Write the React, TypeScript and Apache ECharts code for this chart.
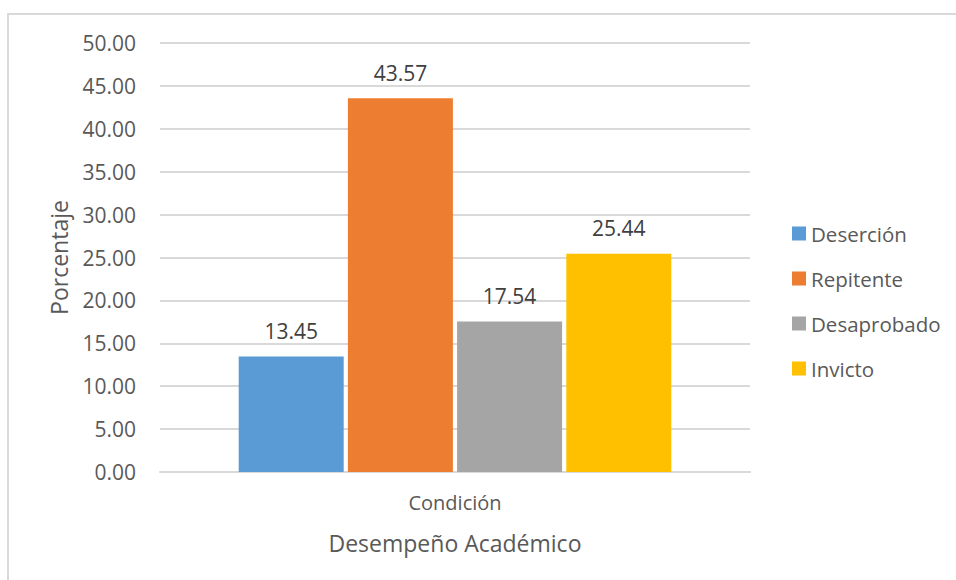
import React, { useEffect, useRef } from "react";
import * as echarts from "echarts";

const categories = ["Condición"];
const seriesNames = ["Deserción", "Repitente", "Desaprobado", "Invicto"];
const seriesValues = [[13.45], [43.57], [17.54], [25.44]];
const seriesColors = ["#5B9BD5", "#ED7D31", "#A5A5A5", "#FFC000"];
const yAxisName = "Porcentaje";
const xAxisName = "Desempeño Académico";

const FONT = "Open Sans";
const TEXT = "#595959";

export default function App() {
  const ref = useRef<HTMLDivElement>(null);
  useEffect(() => {
    if (!ref.current) return;
    const chart = echarts.init(ref.current, null, { renderer: "svg" });
    chart.setOption({
      animation: false,
      backgroundColor: "#ffffff",
      textStyle: { fontFamily: FONT, color: TEXT },
      graphic: [
        {
          type: "rect",
          shape: { x: 8, y: 14, width: 1000, height: 1000 },
          style: { fill: "none", stroke: "#D9D9D9", lineWidth: 2 },
          silent: true,
        },
      ],
      grid: { left: 160, top: 43, width: 590, height: 429 },
      legend: {
        orient: "vertical",
        left: 787,
        top: 218,
        icon: "rect",
        itemWidth: 14,
        itemHeight: 14,
        itemGap: 24,
        textStyle: { fontFamily: FONT, fontSize: 20.5, color: TEXT },
        data: seriesNames,
      },
      xAxis: {
        type: "category",
        data: categories,
        axisLine: { lineStyle: { color: "#D9D9D9", width: 2 } },
        axisTick: { show: false },
        axisLabel: { fontFamily: FONT, fontSize: 20, color: TEXT, margin: 20 },
        name: xAxisName,
        nameLocation: "middle",
        nameGap: 59,
        nameTextStyle: { fontFamily: FONT, fontSize: 23, color: TEXT },
      },
      yAxis: {
        type: "value",
        min: 0,
        max: 50,
        interval: 5,
        axisLine: { show: false },
        axisTick: { show: false },
        splitLine: { lineStyle: { color: "#D9D9D9", width: 2 } },
        axisLabel: {
          fontFamily: FONT,
          fontSize: 21,
          color: TEXT,
          margin: 24,
          formatter: (v: number) => v.toFixed(2),
        },
        name: yAxisName,
        nameLocation: "middle",
        nameRotate: 90,
        nameGap: 90,
        nameTextStyle: { fontFamily: FONT, fontSize: 23, color: TEXT },
      },
      series: seriesNames.map((name, i) => ({
        name,
        type: "bar",
        data: seriesValues[i],
        barWidth: 105,
        barGap: "4%",
        itemStyle: { color: seriesColors[i] },
        label: {
          show: true,
          position: "top",
          distance: 15,
          fontFamily: FONT,
          fontSize: 21,
          color: "#404040",
          formatter: (p: any) => Number(p.value).toFixed(2),
        },
      })),
    });
    return () => chart.dispose();
  }, []);
  return (
    <div
      ref={ref}
      style={{ position: "absolute", left: 0, top: 0, width: 956, height: 580 }}
    />
  );
}
